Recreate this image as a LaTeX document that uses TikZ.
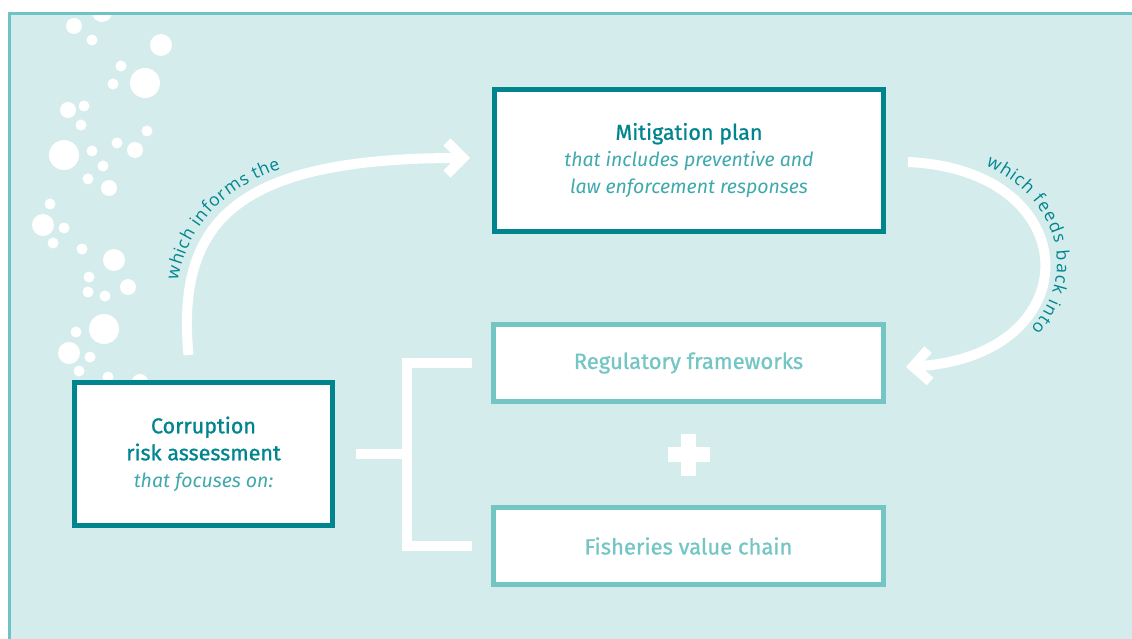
\documentclass[tikz,border=0pt]{standalone}
\usepackage{fontspec}
\setmainfont{Fira Sans}
\newfontfamily\titlefont{Fira Sans}[FakeBold=0.9]
\newfontfamily\curvefont{Open Sans}
\usetikzlibrary{arrows.meta,decorations.text,calc}

\definecolor{bgteal}{HTML}{D4ECEC}
\definecolor{frameteal}{HTML}{6EC4C4}
\definecolor{darkteal}{HTML}{00858F}
\definecolor{midteal}{HTML}{3FA9AE}
\definecolor{lightteal}{HTML}{74C6C5}

\tikzset{
  mainbox/.style={draw=darkteal, fill=white, line width=5pt, align=center,
    text=darkteal, font=\titlefont\fontsize{21.5}{27}\selectfont},
  sidebox/.style={draw=lightteal, fill=white, line width=5pt,
    minimum width=390pt, minimum height=77pt, text=lightteal,
    font=\titlefont\fontsize{22}{24}\selectfont},
  flow/.style={draw=white, line width=10pt, -{Straight Barb[length=16pt,width=32pt]}},
  bracket/.style={draw=white, line width=10pt},
  curvelabel/.style={decorate, decoration={text along path, raise=13pt,
    text color=darkteal, text align={left indent=#1}}},
}
\newcommand{\subline}[1]{\textcolor{midteal}{\normalfont\fontsize{19.5}{27}\selectfont\itshape #1}}

\begin{document}
\begin{tikzpicture}[x=1pt, y=-1pt]
  \useasboundingbox (0,0) rectangle (1132,639);
  % background panel
  \fill[bgteal] (8,12) rectangle (1132,639);
  % bubbles
  \begin{scope}
    \clip (8,15) rectangle (1132,639);
    \foreach \bx/\by/\br in {74/26/8, 102/12/10, 92/40/5.5, 161/45/11, 121/66/5.5,
        113/84/5.5, 145/83/15, 68/110/8, 84/106/5.5, 81/125/5.5, 147/131/5.5,
        117/143/5.5, 135/150/8, 64/155/15, 92/151/5.5, 103/166/5.5, 88/179/5.5,
        109/188/8, 50/204/5.5, 43/225/11, 64/228/5.5, 53/243/5.5, 82/249/5.5,
        114/260/11, 89/277/5.5, 88/292/5.5, 105/296/5.5, 128/287/8, 104/329/15,
        76/332/5.5, 69/353/11, 90/357/5.5, 79/371/5.5, 108/377/5.5, 140/382/8}
      \fill[white] (\bx,\by) circle[radius=\br pt];
  \end{scope}
  \draw[frameteal, line width=3.3pt] (9.6,639) -- (9.6,13.7) -- (1132,13.7);

  % boxes
  \node[mainbox, minimum width=389pt, minimum height=142pt] (mitig) at (689,160.5)
    {Mitigation plan\\
     \subline{that includes preventive and}\\
     \subline{law enforcement responses}};
  \node[mainbox, minimum width=258pt, minimum height=143pt] (corr) at (203.5,454)
    {Corruption\\risk assessment\\
     \subline{that focuses on:}};
  \node[sidebox] (regul) at (688.5,363) {Regulatory frameworks};
  \node[sidebox] (fish) at (688.5,546) {Fisheries value chain};

  % bracket and plus
  \coordinate (brk) at ([xshift=-84.5pt]regul.west |- corr.east);
  \draw[bracket] ([xshift=21pt]corr.east) -- (brk);
  \draw[bracket] ([xshift=-19.5pt]regul.west) -- ++(-65,0) |- ([xshift=-19.5pt]fish.west);
  \coordinate (plus) at ($(regul.south)!0.5!(fish.north)$);
  \fill[white] ([xshift=-21pt,yshift=-7.5pt]plus) rectangle ([xshift=21pt,yshift=7.5pt]plus);
  \fill[white] ([xshift=-7.5pt,yshift=-21pt]plus) rectangle ([xshift=7.5pt,yshift=21pt]plus);

  % curved arrows
  \coordinate (infA) at ([xshift=-15pt,yshift=25pt]corr.north);
  \coordinate (infB) at ([xshift=-22pt,yshift=2.5pt]mitig.west);
  \coordinate (fbA) at ([xshift=22pt,yshift=-1.5pt]mitig.east);
  \coordinate (fbB) at ([xshift=20pt,yshift=-4pt]regul.east);
  \draw[flow] (infA) .. controls +(-13,-137) and +(-230,0) .. (infB);
  \draw[flow] (fbA) .. controls +(180,8) and +(185,-12) .. (fbB);
  \path[curvelabel=72pt, decoration={text={|\curvefont\fontsize{17.5}{18}\selectfont|which informs the}}]
    (infA) .. controls +(-13,-137) and +(-230,0) .. (infB);
  \path[curvelabel=74pt, decoration={text={|\curvefont\fontsize{17.5}{18}\selectfont|which feeds back into}}]
    (fbA) .. controls +(180,8) and +(185,-12) .. (fbB);
\end{tikzpicture}
\end{document}
